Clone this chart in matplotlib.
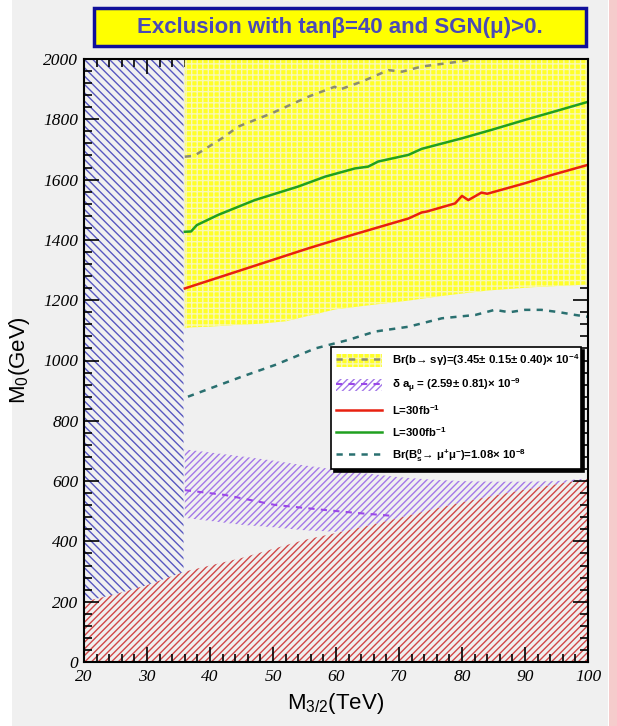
import numpy as np
import matplotlib
matplotlib.use("Agg")
import matplotlib.pyplot as plt
from matplotlib.patches import Patch, Rectangle
from matplotlib.lines import Line2D
from matplotlib.ticker import MultipleLocator

# --- exclusion contours, M_3/2 in TeV, M_0 in GeV ---
red_x = [20, 25, 30, 36, 40, 45, 50, 55, 60, 65, 70, 75, 80, 85, 90, 95, 100]
red_top = [200, 225, 255, 300, 320, 345, 375, 405, 428, 452, 478, 505, 530, 552, 572, 590, 608]

blue_x = [20, 35.8]

amu_x = [36, 40, 45, 50, 55, 60, 65, 70, 75, 80, 85, 90, 95, 100]
amu_hi = [705, 695, 682, 668, 652, 638, 625, 613, 605, 600, 598, 598, 600, 609]
amu_lo = [478, 468, 455, 447, 437, 432, 440, 450, 460, 470, 480, 490, 500, 510]
amu_mid_x = [36, 42.4, 50.3, 58.3, 63.5, 69.4]
amu_mid = [570, 554, 521, 504, 494, 484]

bsg_x = [36, 37, 40, 44, 48, 52, 56, 60, 64, 68, 72, 76, 80, 84, 88, 92, 96, 100]
bsg_lo = [1107, 1110, 1112, 1118, 1122, 1130, 1150, 1170, 1180, 1190, 1200, 1212, 1222, 1232, 1238, 1244, 1248, 1252]
bsg_mid_x = [36, 37.5, 41.9, 44.5, 49.8, 55.6, 59.8, 60.5, 64.1, 68.3, 70.5, 73.6, 79.4, 82]
bsg_mid = [1676, 1679, 1737, 1776, 1820, 1875, 1908, 1898, 1925, 1963, 1958, 1975, 1991, 2000]

l300_x = [36, 37, 37.9, 41.3, 47.1, 54.0, 58.3, 63.0, 65.1, 66.7, 71.5, 73.6, 80.0, 84.7, 90.0, 94.2, 100]
l300 = [1427, 1428, 1449, 1483, 1532, 1577, 1610, 1637, 1643, 1660, 1682, 1702, 1737, 1765, 1798, 1823, 1858]

l30_x = [36, 45.0, 55.6, 62.5, 71.5, 73.6, 74.4, 78.9, 80.0, 81.0, 83.1, 84.0, 90.0, 94.2, 100]
l30 = [1239, 1300, 1372, 1416, 1471, 1491, 1494, 1521, 1546, 1532, 1557, 1553, 1588, 1615, 1649]

bs_x = [36.5, 45.0, 50.3, 56.7, 61.9, 66.2, 71.5, 76.8, 82.1, 85.2, 87.5, 90.0, 92.6, 95.5, 98.0, 100]
bs = [880, 946, 985, 1040, 1068, 1096, 1112, 1140, 1151, 1168, 1160, 1168, 1168, 1160, 1151, 1145]

serif = "Liberation Serif"
sans = "Liberation Sans"
bg = "#f0f0f0"

plt.rcParams["mathtext.fontset"] = "custom"
plt.rcParams["mathtext.rm"] = "Liberation Sans:bold"
plt.rcParams["mathtext.it"] = "Liberation Sans:bold"
plt.rcParams["mathtext.bf"] = "Liberation Sans:bold"
plt.rcParams["hatch.linewidth"] = 1.0

fig = plt.figure(figsize=(6.17, 7.26), dpi=100)
fig.patch.set_facecolor("white")
fig.patches.append(Rectangle((12 / 617, 0), 596 / 617, 1, transform=fig.transFigure,
                             facecolor=bg, edgecolor="none", zorder=-10))
fig.patches.append(Rectangle((609 / 617, 0), 8 / 617, 1, transform=fig.transFigure,
                             facecolor="#f5cccc", edgecolor="none", zorder=-10))

ax = fig.add_axes([84 / 617, 64 / 726, 504 / 617, 603 / 726])
ax.set_facecolor(bg)

# red region (bottom)
rx = np.array(red_x, float)
ry = np.array(red_top, float)
ax.fill_between(rx, 0, ry, facecolor="none", edgecolor="#d04848",
                hatch="/////", linewidth=0, zorder=1)

# blue region (left strip)
bx = np.linspace(blue_x[0], blue_x[1], 40)
ax.fill_between(bx, np.interp(bx, rx, ry), 2000, facecolor="none",
                edgecolor="#5858c0", hatch="\\\\\\\\", linewidth=0, zorder=1)

# g-2 band
ax_ = np.linspace(amu_x[0], amu_x[-1], 200)
lo = np.maximum(np.interp(ax_, amu_x, amu_lo), np.interp(ax_, rx, ry))
hi = np.interp(ax_, amu_x, amu_hi)
ax.fill_between(ax_, lo, hi, where=hi > lo, facecolor="none", edgecolor="#a478e8",
                hatch="/////", linewidth=0, zorder=2)
ax.plot(amu_mid_x, amu_mid, color="#9a48e8", lw=1.5, ls=(0, (3, 3)), zorder=4)

# b -> s gamma region
ax.fill_between(bsg_x, bsg_lo, 2000, facecolor="#ffff28", edgecolor="#f8f8b8",
                hatch="+++", linewidth=0, zorder=2)
ax.plot(bsg_mid_x, bsg_mid, color="#8c8c70", lw=1.8, ls=(0, (2.5, 2.5)), zorder=4)

ax.plot(l300_x, l300, color="#20a020", lw=1.8, zorder=5)
ax.plot(l30_x, l30, color="#e82010", lw=1.8, zorder=5)
ax.plot(bs_x, bs, color="#2a7070", lw=1.8, ls=(0, (2.5, 2.5)), zorder=5)

ax.set_xlim(20, 100)
ax.set_ylim(0, 2000)
ax.xaxis.set_major_locator(MultipleLocator(10))
ax.xaxis.set_minor_locator(MultipleLocator(2))
ax.yaxis.set_major_locator(MultipleLocator(200))
ax.yaxis.set_minor_locator(MultipleLocator(40))
ax.tick_params(which="both", direction="in", top=True, right=True, width=1.2, color="black")
ax.tick_params(which="major", length=11)
ax.tick_params(which="minor", length=5.5)
ax.tick_params(axis="x", pad=5)
ax.tick_params(axis="y", pad=4)
for lab in ax.get_xticklabels() + ax.get_yticklabels():
    lab.set_fontfamily(serif)
    lab.set_fontstyle("italic")
    lab.set_fontsize(12.5)
for s in ax.spines.values():
    s.set_linewidth(1.5)
    s.set_zorder(6)

ax.set_xlabel(r"M$_{\mathregular{3/2}}$(TeV)", fontfamily=sans, fontsize=16, labelpad=4)
ax.set_ylabel(r"M$_{\mathregular{0}}$(GeV)", fontfamily=sans, fontsize=16, labelpad=8)

# legend
handles = [
    (Patch(facecolor="#ffff28", edgecolor="#f8f8b8", hatch="+++", linewidth=0),
     Line2D([], [], color="#8c8c70", lw=1.8, ls=(0, (2.5, 2.5)))),
    (Patch(facecolor="white", edgecolor="#a478e8", hatch="/////", linewidth=0),
     Line2D([], [], color="#9a48e8", lw=1.5, ls=(0, (3, 3)))),
    Line2D([], [], color="#e82010", lw=1.8),
    Line2D([], [], color="#20a020", lw=1.8),
    Line2D([], [], color="#2a7070", lw=1.8, ls=(0, (2.5, 2.5))),
]
labels = [
    "Br(b→ sγ)=(3.45± 0.15± 0.40)× 10$^{\\mathrm{-4}}$",
    "δ a$_{\\mathrm{μ}}$ = (2.59± 0.81)× 10$^{\\mathrm{-9}}$",
    "L=30fb$^{\\mathrm{-1}}$",
    "L=300fb$^{\\mathrm{-1}}$",
    "Br(B$_{\\mathrm{s}}^{\\mathrm{0}}$→ μ$^{\\mathrm{+}}$μ$^{\\mathrm{-}}$)=1.08× 10$^{\\mathrm{-8}}$",
]
leg = ax.legend(handles, labels, loc="upper left",
                bbox_to_anchor=(0.49, 0.318, 0.496, 0.204), mode="expand",
                prop={"family": sans, "weight": "bold", "size": 8.2},
                frameon=True, fancybox=False, edgecolor="black", facecolor="white",
                framealpha=1, shadow={"color": "black", "alpha": 1},
                handlelength=4.0, handleheight=1.3, labelspacing=0.72,
                borderpad=0.45, handletextpad=0.9, borderaxespad=0)
leg.get_frame().set_linewidth(1.2)
leg.set_zorder(10)

# title box
fig.patches.append(Rectangle((94 / 617, 1 - 46 / 726), 492 / 617, 38 / 726,
                             transform=fig.transFigure, facecolor="#ffff00",
                             edgecolor="#10109a", linewidth=2.5, zorder=5))
fig.text(340 / 617, 1 - 27 / 726, "Exclusion with tanβ=40 and SGN(μ)>0.",
         ha="center", va="center", fontfamily=sans, fontweight="bold",
         fontsize=16, color="#4a4ab8", zorder=6)

fig.savefig("out.png", dpi=100, facecolor=fig.get_facecolor())
